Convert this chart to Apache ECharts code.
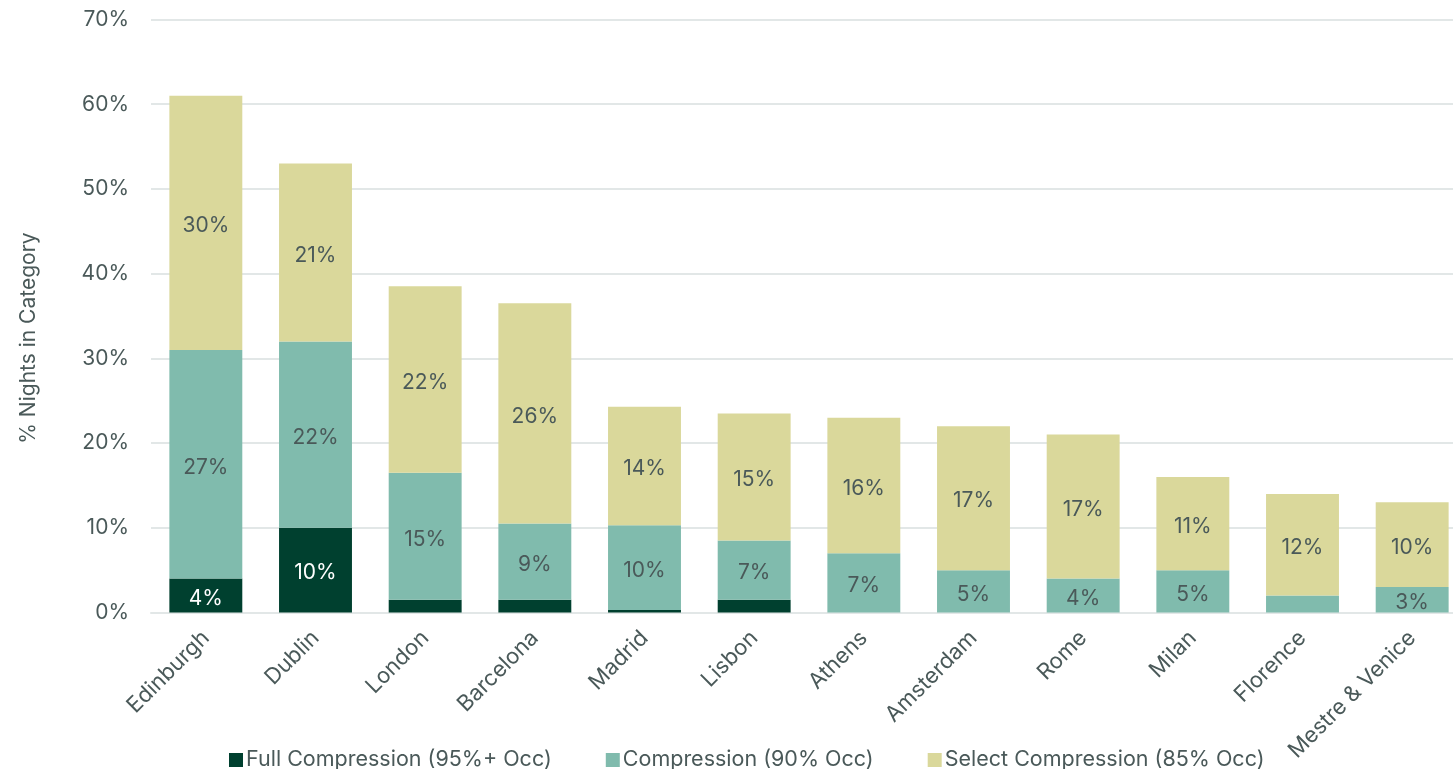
<!DOCTYPE html>
<html>
<head>
<meta charset="utf-8">
<script src="https://cdn.jsdelivr.net/npm/echarts@6/dist/echarts.min.js"></script>
<style>
  html, body { margin: 0; padding: 0; background: #ffffff; }
  #chart { width: 1453px; height: 769px; }
</style>
</head>
<body>
<div id="chart"></div>
<script>
// Share of nights per compression level, by city (%)
const cities = ['Edinburgh', 'Dublin', 'London', 'Barcelona', 'Madrid', 'Lisbon',
  'Athens', 'Amsterdam', 'Rome', 'Milan', 'Florence', 'Mestre & Venice'];
const fullCompression = [4, 10, 1.5, 1.5, 0.3, 1.5, 0, 0, 0, 0, 0, 0];
const compression = [27, 22, 15, 9, 10, 7, 7, 5, 4, 5, 2, 3];
const selectCompression = [30, 21, 22, 26, 14, 15, 16, 17, 17, 11, 12, 10];
const seriesNames = ['Full Compression (95%+ Occ)', 'Compression (90% Occ)', 'Select Compression (85% Occ)'];
const yTicks = [0, 10, 20, 30, 40, 50, 60, 70];

const FONT = 'Inter';
const TEXT = '#4a5959';

function barSeries(name, values, color, labelColor) {
  return {
    name: name,
    type: 'bar',
    stack: 'nights',
    barWidth: '66.5%',
    data: values,
    itemStyle: { color: color },
    label: {
      show: true,
      position: 'inside',
      offset: [0, 3],
      fontFamily: FONT,
      fontSize: 21,
      color: labelColor,
      // thin slivers stay unlabelled
      formatter: p => (p.value >= 2.5 ? Math.round(p.value) + '%' : '')
    }
  };
}

const chart = echarts.init(document.getElementById('chart'), null, { renderer: 'canvas' });
chart.setOption({
  animation: false,
  textStyle: { fontFamily: FONT },
  grid: {
    left: 151, top: 19.5, width: 1316, bottom: 156.5,
    containLabel: false, outerBoundsMode: 'none'
  },
  legend: {
    left: 224,
    top: 744,
    itemWidth: 14,
    itemHeight: 14,
    itemGap: 54,
    icon: 'rect',
    textStyle: { fontFamily: FONT, fontSize: 21.5, color: TEXT, padding: [0, 0, 0, -2] }
  },
  xAxis: {
    type: 'category',
    data: cities,
    axisTick: { show: false },
    axisLine: { lineStyle: { color: '#e2e7e7', width: 2 } },
    axisLabel: { rotate: 45, margin: 22, fontFamily: FONT, fontSize: 22, color: TEXT, interval: 0 }
  },
  yAxis: {
    type: 'value',
    min: yTicks[0],
    max: yTicks[yTicks.length - 1],
    interval: 10,
    name: '% Nights in Category',
    nameLocation: 'middle',
    nameGap: 112,
    nameTextStyle: { fontFamily: FONT, fontSize: 21, color: TEXT, padding: [0, 44, 0, 0] },
    axisLabel: { formatter: v => v + '%', margin: 22, fontFamily: FONT, fontSize: 21, color: TEXT },
    splitLine: { lineStyle: { color: '#e2e7e7', width: 2 } }
  },
  series: [
    barSeries(seriesNames[0], fullCompression, '#00402f', '#ffffff'),
    barSeries(seriesNames[1], compression, '#80bbad', TEXT),
    barSeries(seriesNames[2], selectCompression, '#dad89b', TEXT)
  ]
});
</script>
</body>
</html>
